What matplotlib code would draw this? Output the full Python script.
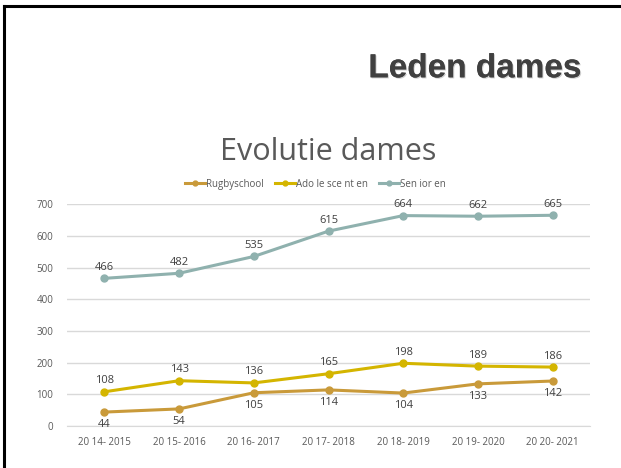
import matplotlib.pyplot as plt
from matplotlib.lines import Line2D
import matplotlib.patheffects as pe

seasons = ['20 14- 2015', '20 15- 2016', '20 16- 2017', '20 17- 2018',
           '20 18- 2019', '20 19- 2020', '20 20- 2021']
rugbyschool = [44, 54, 105, 114, 104, 133, 142]
adolescenten = [108, 143, 136, 165, 198, 189, 186]
senioren = [466, 482, 535, 615, 664, 662, 665]

series = [
    ('Rugbyschool', rugbyschool, '#C99A3A', 'below'),
    ('Ado le sce nt en', adolescenten, '#D4B500', 'above'),
    ('Sen ior en', senioren, '#8FB1AE', 'above'),
]

fig = plt.figure(figsize=(6.21, 4.68), dpi=100)
fig.patch.set_facecolor('white')

# slide border (left + top)
fig.add_artist(Line2D([0.0065, 0.0065], [0.0, 0.988], color='black', lw=2.2))
fig.add_artist(Line2D([0.0065, 1.0], [0.988, 0.988], color='black', lw=2.2))

# slide title
fig.text(0.765, 0.853, 'Leden dames', ha='center', va='center', fontsize=24,
         fontweight='bold', family='Liberation Sans', color='#404040',
         path_effects=[pe.withSimplePatchShadow(offset=(0.8, -0.8), alpha=0.2),
                       pe.Normal()])

# chart title
fig.text(0.528, 0.676, 'Evolutie dames', ha='center', va='center', fontsize=22,
         family='Open Sans', color='#595959')

ax = fig.add_axes([0.108, 0.0897, 0.842, 0.474])
x = list(range(len(seasons)))
for name, vals, col, pos in series:
    ax.plot(x, vals, color=col, lw=2.2, marker='o', markersize=5, label=name)
    for xi, v in zip(x, vals):
        dy = 4 if pos == 'above' else -5
        ax.annotate(str(v), (xi, v), xytext=(0, dy), textcoords='offset points',
                    ha='center', va='bottom' if pos == 'above' else 'top',
                    fontsize=8, color='#404040', family='Open Sans')

ax.set_xlim(-0.5, len(seasons) - 0.5)
ax.set_ylim(0, 700)
ax.set_yticks(range(0, 701, 100))
ax.set_yticklabels(['0', '100', '200', '300', '400', '500', '600', '700'])
ax.set_xticks(x)
ax.set_xticklabels(seasons)
ax.tick_params(length=0, labelsize=7, colors='#595959', pad=8)
ax.tick_params(axis='y', pad=10)
for lab in ax.get_xticklabels() + ax.get_yticklabels():
    lab.set_family('Open Sans')
ax.grid(axis='y', color='#D9D9D9', lw=1)
ax.set_axisbelow(True)
for s in ax.spines.values():
    s.set_visible(False)
ax.spines['bottom'].set_visible(True)
ax.spines['bottom'].set_color('#D9D9D9')
ax.set_facecolor('none')

leg = ax.legend(loc='lower center', bbox_to_anchor=(0.475, 1.025), ncol=3,
                frameon=False, fontsize=7, handlelength=2.0, handletextpad=0.1,
                columnspacing=1.2, markerscale=0.7)
for t in leg.get_texts():
    t.set_color('#595959')
    t.set_family('Open Sans')

fig.savefig('out.png', dpi=100)
